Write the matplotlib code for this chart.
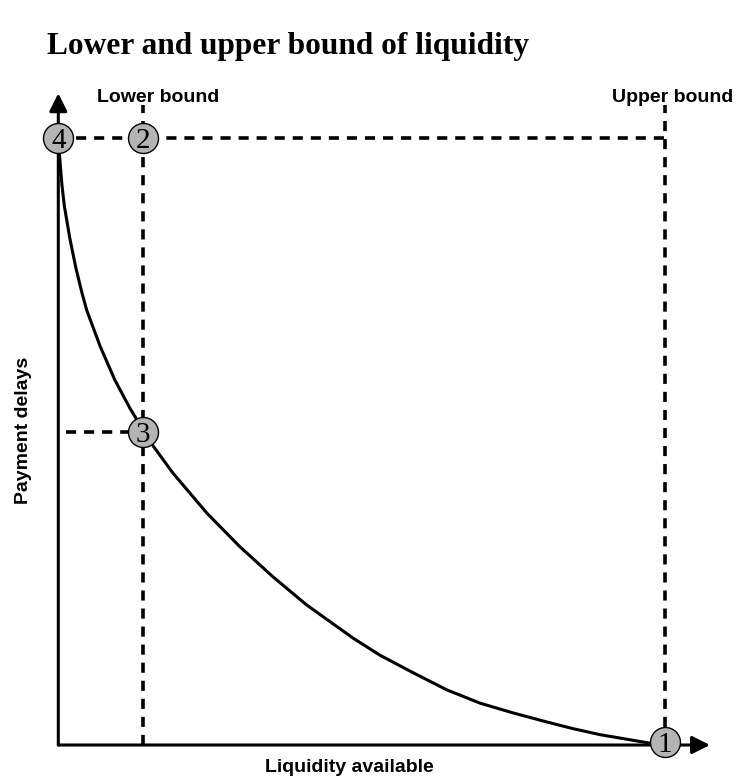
import matplotlib.pyplot as plt

# curve (liquidity available vs payment delays)
curve_x = [0.0, 0.003, 0.006, 0.010, 0.019, 0.029, 0.039, 0.047, 0.069, 0.093, 0.118,
           0.129, 0.140, 0.154, 0.189, 0.245, 0.299, 0.354, 0.409, 0.486, 0.530, 0.585,
           0.640, 0.695, 0.749, 0.805, 0.848, 0.893, 0.975, 1.0]
curve_y = [1.0, 0.959, 0.923, 0.888, 0.835, 0.786, 0.745, 0.716, 0.657, 0.602, 0.555,
           0.537, 0.519, 0.496, 0.448, 0.382, 0.327, 0.277, 0.231, 0.176, 0.148, 0.119,
           0.091, 0.069, 0.053, 0.038, 0.027, 0.017, 0.003, 0.0]

lower_bound = 0.140
upper_bound = 1.0
max_delay = 1.0
delay_at_lower = 0.516

point_labels = ['1', '2', '3', '4']
point_x = [upper_bound, lower_bound, lower_bound, 0.0]
point_y = [0.005, max_delay, delay_at_lower, max_delay]


def main():
    fig = plt.figure(figsize=(7.44, 7.8), dpi=100)
    ax = fig.add_axes([58.3 / 744, 35 / 780, 651.7 / 744, 651.7 / 780])
    ax.set_xlim(0, 1.074)
    ax.set_ylim(0, 1.074)
    ax.axis('off')

    dash = dict(color='black', lw=2.6, linestyle=(0, (2.8, 2.2)), clip_on=False, zorder=2)
    ax.plot([0, upper_bound], [max_delay, max_delay], **dash)
    ax.plot([lower_bound, lower_bound], [0, 1.055], **dash)
    ax.plot([upper_bound, upper_bound], [0, 1.055], **dash)
    ax.plot([0.012, lower_bound], [delay_at_lower, delay_at_lower], **dash)

    # axes with arrow heads
    arrow = dict(arrowstyle='-|>', lw=2.2, color='black', mutation_scale=27, shrinkA=0, shrinkB=0)
    ax.annotate('', xy=(1.074, 0), xytext=(0, 0), arrowprops=arrow, annotation_clip=False)
    ax.annotate('', xy=(0, 1.074), xytext=(0, 0), arrowprops=arrow, annotation_clip=False)

    ax.plot(curve_x, curve_y, color='black', lw=2.2, clip_on=False, zorder=3,
            solid_joinstyle='round')

    ax.plot(point_x, point_y, linestyle='none', marker='o', markersize=21.6,
            markerfacecolor='#b4b4b4', markeredgecolor='black', markeredgewidth=1,
            clip_on=False, zorder=4)
    for lab, x, y in zip(point_labels, point_x, point_y):
        ax.text(x, y, lab, ha='center', va='center_baseline', fontsize=21,
                family='Liberation Serif', zorder=5)

    def ftext(px, py, s, **kw):
        fig.text(px / 744, 1 - py / 780, s, **kw)

    ftext(47, 54, 'Lower and upper bound of liquidity', fontsize=22.6, fontweight='bold',
          family='Liberation Serif', ha='left', va='baseline')
    ftext(158, 97, 'Lower bound', fontsize=14, fontweight='bold', family='Liberation Sans',
          ha='center', va='center')
    ftext(673, 97, 'Upper bound', fontsize=14, fontweight='bold', family='Liberation Sans',
          ha='center', va='center')
    ftext(349, 767, 'Liquidity available', fontsize=14, fontweight='bold',
          family='Liberation Sans', ha='center', va='center')
    ftext(24, 430, 'Payment delays', fontsize=14, fontweight='bold', family='Liberation Sans',
          ha='center', va='center', rotation=90)

    fig.savefig('out.png', dpi=100)


if __name__ == "__main__":
    main()
